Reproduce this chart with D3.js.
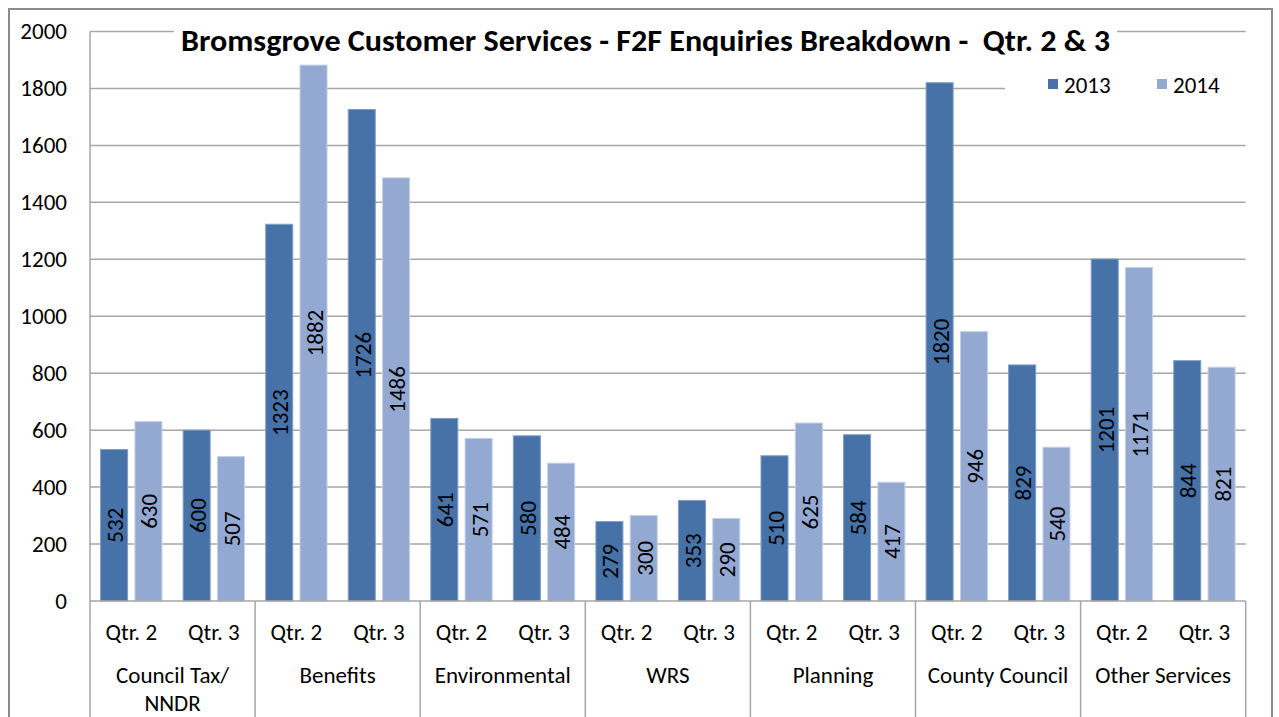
<!DOCTYPE html>
<html><head><meta charset="utf-8">
<script src="https://cdn.jsdelivr.net/npm/d3@7"></script>
<style>body{margin:0;background:#fff}svg{display:block}text{font-family:Carlito,Calibri,Lato,sans-serif;fill:#000}</style>
</head><body><svg id="c" width="1279" height="717"></svg>
<script>
const groups = ["Council Tax/ NNDR","Benefits","Environmental","WRS","Planning","County Council","Other Services"];
const quarters = ["Qtr. 2","Qtr. 3"];
const seriesNames = ["2013","2014"];
const values2013 = [[532,600],[1323,1726],[641,580],[279,353],[510,584],[1820,829],[1201,844]];
const values2014 = [[630,507],[1882,1486],[571,484],[300,290],[625,417],[946,540],[1171,821]];
const yTicks = [0,200,400,600,800,1000,1200,1400,1600,1800,2000];
const title = "Bromsgrove Customer Services - F2F Enquiries Breakdown -  Qtr. 2 & 3";
const colors = {"2013":"#4672A8","2014":"#94A9D2"};

const svg = d3.select("#c");
const L=90, R=1245.7, T=31.5, B=601;
const grid="#a6a6a6";
const FS=23;
svg.append("rect").attr("x",9).attr("y",9).attr("width",1263).attr("height",720).attr("fill","none").attr("stroke","#8a8a8a").attr("stroke-width",2);

const y = d3.scaleLinear().domain([0,2000]).range([B,T]);
const xg = d3.scaleBand().domain(groups).range([L,R]).padding(0);
const xq = d3.scaleBand().domain(quarters).range([0,xg.bandwidth()]).padding(0);
const xs = d3.scaleBand().domain(seriesNames).range([0,xq.bandwidth()]).paddingInner(0.213).paddingOuter(0.309);

svg.append("g").selectAll("line").data(yTicks.filter(d=>d>0)).join("line")
  .attr("x1",L).attr("x2",R).attr("y1",d=>y(d)).attr("y2",d=>y(d)).attr("stroke",grid).attr("stroke-width",1.5);
const yAxis = d3.axisLeft(y).tickValues(yTicks).tickSize(0).tickPadding(23).tickFormat(d3.format("d"));
const ya = svg.append("g").attr("transform",`translate(${L},0)`).call(yAxis);
ya.select(".domain").remove();
ya.selectAll("text").attr("font-size",FS).style("font-family","Carlito,Calibri,Lato,sans-serif").attr("fill","#000");

const data=[];
groups.forEach((g,gi)=>quarters.forEach((q,qi)=>{
  data.push({g,q,s:"2013",v:values2013[gi][qi]});
  data.push({g,q,s:"2014",v:values2014[gi][qi]});
}));
const bx = d=>xg(d.g)+xq(d.q)+xs(d.s);
svg.append("g").selectAll("rect").data(data).join("rect")
  .attr("x",bx).attr("width",xs.bandwidth()).attr("y",d=>y(d.v)).attr("height",d=>B-y(d.v))
  .attr("fill",d=>colors[d.s]).attr("stroke",d=>d.s==="2013"?"#7f9cc4":"#c3cfe6").attr("stroke-width",1);
svg.append("g").selectAll("text").data(data).join("text")
  .attr("transform",d=>`translate(${bx(d)+xs.bandwidth()/2+1},${(y(d.v)+B)/2}) rotate(-90)`)
  .attr("text-anchor","middle").attr("dominant-baseline","central").attr("font-size",FS).text(d=>d.v);

svg.append("line").attr("x1",L).attr("x2",R).attr("y1",B).attr("y2",B).attr("stroke",grid).attr("stroke-width",1.5);
svg.append("line").attr("x1",L).attr("x2",L).attr("y1",T).attr("y2",717).attr("stroke",grid).attr("stroke-width",1.5);
svg.append("g").selectAll("line").data(groups.slice(1).concat(["end"])).join("line")
  .attr("x1",d=>d==="end"?R:xg(d)).attr("x2",d=>d==="end"?R:xg(d)).attr("y1",B).attr("y2",717).attr("stroke",grid).attr("stroke-width",1.5);
const ql=[];groups.forEach(g=>quarters.forEach(q=>ql.push({g,q})));
svg.append("g").selectAll("text").data(ql).join("text")
  .attr("x",d=>xg(d.g)+xq(d.q)+xq.bandwidth()/2).attr("y",640).attr("text-anchor","middle").attr("font-size",FS).text(d=>d.q);
const gl = svg.append("g").selectAll("text").data(groups).join("text")
  .attr("x",d=>xg(d)+xg.bandwidth()/2).attr("y",683).attr("text-anchor","middle").attr("font-size",FS);
gl.each(function(d){
  const parts = d==="Council Tax/ NNDR"?["Council Tax/","NNDR"]:[d];
  d3.select(this).selectAll("tspan").data(parts).join("tspan").attr("x",xg(d)+xg.bandwidth()/2).attr("dy",(p,i)=>i?28:0).text(p=>p);
});

const tg = svg.append("g");
const tt = tg.append("text").attr("x",645.5).attr("y",51).attr("text-anchor","middle").attr("font-size",30).attr("font-weight","bold")
  .attr("textLength",929).attr("lengthAdjust","spacingAndGlyphs").style("white-space","pre").text(title);
const bb = tt.node().getBBox();
tg.insert("rect",()=>tt.node()).attr("x",bb.x-7).attr("y",T-4).attr("width",bb.width+14).attr("height",10).attr("fill","#fff");

svg.append("rect").attr("x",1005).attr("y",72).attr("width",R-1005+2).attr("height",28).attr("fill","#fff");
const lg = svg.append("g").selectAll("g").data(seriesNames).join("g").attr("transform",(d,i)=>`translate(${1048+i*109},0)`);
lg.append("rect").attr("x",0).attr("y",79).attr("width",10).attr("height",10).attr("fill",d=>colors[d]);
lg.append("text").attr("x",16).attr("y",93).attr("font-size",FS).text(d=>d);
</script></body></html>
